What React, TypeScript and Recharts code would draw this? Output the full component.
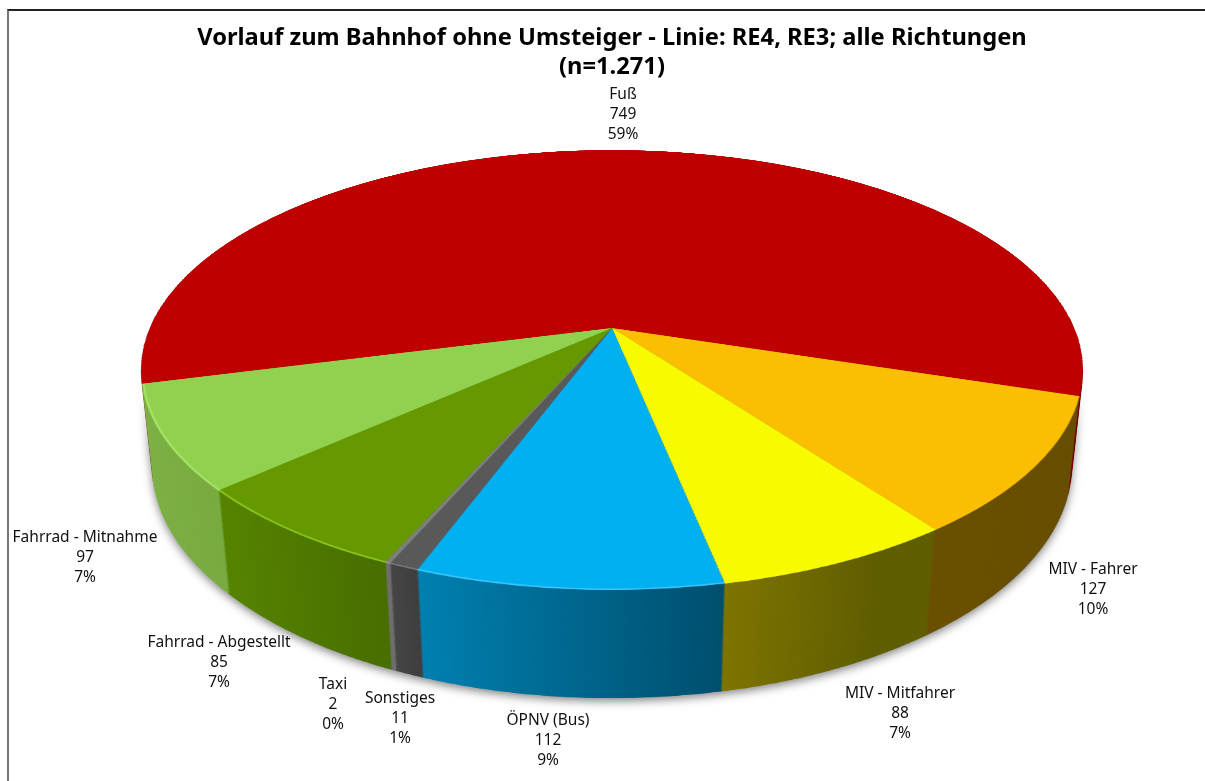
import React from 'react';
import { PieChart, Pie, Cell } from 'recharts';

const categories = ['Fuß', 'MIV - Fahrer', 'MIV - Mitfahrer', 'ÖPNV (Bus)', 'Sonstiges', 'Taxi', 'Fahrrad - Abgestellt', 'Fahrrad - Mitnahme'];
const counts = [749, 127, 88, 112, 11, 2, 85, 97];
const percents = ['59%', '10%', '7%', '9%', '1%', '0%', '7%', '7%'];

const topColors = ['#BE0000', '#FBBE00', '#F8FB00', '#00B0F0', '#595959', '#7F7F7F', '#669900', '#92D050'];
const rimColors = ['#BE0000', '#FBBE00', '#F8FB00', '#3CC6FA', '#777777', '#999999', '#8CC81E', '#A8E468'];

// side wall shading, left to right colour + local x range of each slice
const wallStops = [
  ['#8A0000', '#700000', 40, 960],
  ['#6C5100', '#664C00', 640, 960],
  ['#7E7400', '#5F5D00', 590, 720],
  ['#0080B0', '#004E6E', 340, 590],
  ['#444444', '#3C3C3C', 320, 345],
  ['#6E6E6E', '#606060', 315, 325],
  ['#548200', '#476C00', 170, 320],
  ['#7DB245', '#76A93E', 30, 180],
];

const labelX = [623, 1093, 900, 548, 400, 333, 219, 85];
const labelY = [99, 574, 698, 725, 703, 689, 647, 542];

const pieData = categories.map((name, i) => ({ name, value: counts[i], percent: percents[i] }));

const BOX = 1000;
const RADIUS = 462;
const APEX_X = 612;
const APEX_Y = 328;
const DEPTH = 108;
const DEPTH_STEP = 1.8;
const START = 194.5;
const FONT = '"Noto Sans", sans-serif';

const depths: number[] = [];
for (let d = DEPTH; d > 0; d -= DEPTH_STEP) depths.push(d);
const shadowDepths = depths.filter((_, i) => i % 8 === 0);

function layerStyle(depth: number): React.CSSProperties {
  return {
    position: 'absolute',
    left: APEX_X - BOX / 2,
    top: APEX_Y - BOX / 2,
    width: BOX,
    height: BOX,
    transformOrigin: `${BOX / 2}px ${BOX / 2}px`,
    transform: `perspective(2150px) rotateX(62.7deg) translateZ(${-depth}px)`,
  };
}

function Slices({ colors, inner = 0 }: { colors: string[]; inner?: number }) {
  return (
    <Pie
      data={pieData}
      dataKey="value"
      cx={BOX / 2}
      cy={BOX / 2}
      innerRadius={inner}
      outerRadius={RADIUS}
      startAngle={START}
      endAngle={START - 360}
      stroke="none"
      isAnimationActive={false}
    >
      {pieData.map((d, i) => <Cell key={d.name} fill={colors[i]} stroke="none" />)}
    </Pie>
  );
}

const wallFills = wallStops.map((_, i) => `url(#wall${i})`);

function Walls({ list }: { list: number[] }) {
  return (
    <>
      {list.map(d => (
        <div key={d} style={layerStyle(d)}>
          <PieChart width={BOX} height={BOX} margin={{ top: 0, right: 0, bottom: 0, left: 0 }}>
            <Slices colors={wallFills} />
          </PieChart>
        </div>
      ))}
    </>
  );
}

function renderLabel(props: any) {
  const i = props.index;
  return (
    <text key={i} x={labelX[i]} y={labelY[i]} textAnchor="middle" fontFamily={FONT} fontSize={15.5} fill="#111">
      <tspan x={labelX[i]}>{categories[i]}</tspan>
      <tspan x={labelX[i]} dy={20}>{counts[i]}</tspan>
      <tspan x={labelX[i]} dy={20}>{percents[i]}</tspan>
    </text>
  );
}

const shadowMask = 'linear-gradient(to bottom, transparent 395px, black 450px)';

export default function App() {
  return (
    <div style={{ position: 'absolute', left: 0, top: 0, width: 1205, height: 781, overflow: 'hidden', background: '#fff' }}>
      <svg width={0} height={0} style={{ position: 'absolute' }}>
        <defs>
          {wallStops.map((w, i) => (
            <linearGradient key={i} id={`wall${i}`} gradientUnits="userSpaceOnUse" x1={w[2]} x2={w[3]} y1={0} y2={0}>
              <stop offset="0%" stopColor={w[0] as string} />
              <stop offset="100%" stopColor={w[1] as string} />
            </linearGradient>
          ))}
        </defs>
      </svg>

      <div style={{ position: 'absolute', left: 7, top: 9, width: 1300, height: 900, borderTop: '2px solid #222', borderLeft: '2px solid #777' }} />

      {/* coarse copy of the walls only casts the soft shadow, faded out towards the back */}
      <div
        style={{
          position: 'absolute', left: 0, top: 0, width: 1205, height: 781,
          WebkitMaskImage: shadowMask, maskImage: shadowMask,
          filter: 'drop-shadow(0px 3px 5px rgba(0,0,0,0.5))',
        }}
      >
        <Walls list={shadowDepths} />
      </div>
      {/* no-op filter keeps the many layers flattened into one surface, they tear without it */}
      <div style={{ position: 'absolute', left: 0, top: 0, width: 1205, height: 781, filter: 'brightness(1)' }}>
        <Walls list={depths} />
      </div>
      <div style={layerStyle(0)}>
        <PieChart width={BOX} height={BOX} margin={{ top: 0, right: 0, bottom: 0, left: 0 }}>
          <Slices colors={topColors} />
          <Slices colors={rimColors} inner={RADIUS - 2} />
        </PieChart>
      </div>

      {/* flat overlay that carries title and data labels */}
      <div style={{ position: 'absolute', left: 0, top: 0 }}>
        <PieChart width={1205} height={781} margin={{ top: 0, right: 0, bottom: 0, left: 0 }}>
          <text x={612} y={45} textAnchor="middle" fontFamily={FONT} fontSize={23.7} fontWeight={700} fill="#000">
            Vorlauf zum Bahnhof ohne Umsteiger - Linie: RE4, RE3; alle Richtungen
          </text>
          <text x={612} y={74} textAnchor="middle" fontFamily={FONT} fontSize={23.7} fontWeight={700} fill="#000">
            (n=1.271)
          </text>
          <Pie
            data={pieData}
            dataKey="value"
            cx={APEX_X}
            cy={APEX_Y}
            outerRadius={RADIUS}
            startAngle={START}
            endAngle={START - 360}
            fill="none"
            stroke="none"
            label={renderLabel}
            labelLine={false}
            isAnimationActive={false}
          />
        </PieChart>
      </div>
    </div>
  );
}
